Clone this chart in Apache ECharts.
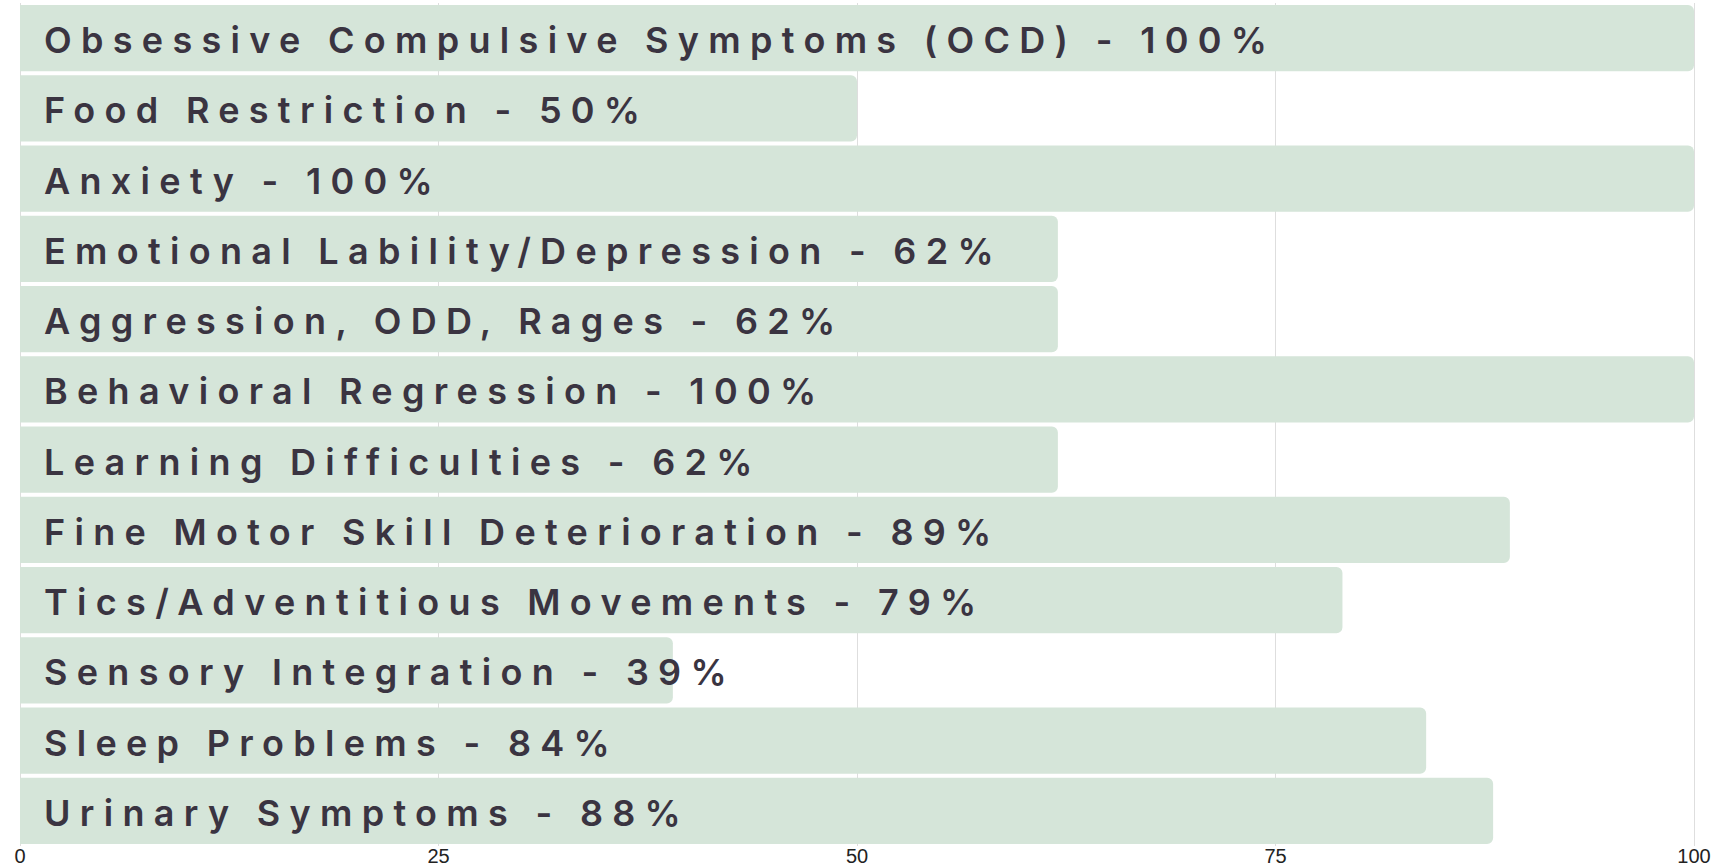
<!DOCTYPE html>
<html>
<head>
<meta charset="utf-8">
<script src="https://cdn.jsdelivr.net/npm/echarts@6/dist/echarts.min.js"></script>
<style>
  html, body { margin: 0; padding: 0; background: #fff; }
  #chart { width: 1725px; height: 866px; }
  /* wide tracking on the bar labels only */
  #chart text[style*="36px"] { letter-spacing: 9.3px; }
</style>
</head>
<body>
<div id="chart"></div>
<script>
const symptoms = [
  "Obsessive Compulsive Symptoms (OCD)",
  "Food Restriction",
  "Anxiety",
  "Emotional Lability/Depression",
  "Aggression, ODD, Rages",
  "Behavioral Regression",
  "Learning Difficulties",
  "Fine Motor Skill Deterioration",
  "Tics/Adventitious Movements",
  "Sensory Integration",
  "Sleep Problems",
  "Urinary Symptoms"
];
const percents = [100, 50, 100, 62, 62, 100, 62, 89, 79, 39, 84, 88];
const xTicks = [0, 25, 50, 75, 100];

const chart = echarts.init(document.getElementById("chart"), null, { renderer: "svg" });

chart.setOption({
  animation: false,
  grid: { left: 20, right: 31, top: 3, bottom: 20, containLabel: false },
  xAxis: {
    type: "value",
    min: xTicks[0],
    max: xTicks[xTicks.length - 1],
    interval: 25,
    axisLine: { show: false },
    axisTick: { show: false },
    axisLabel: { color: "#222", fontSize: 20, fontFamily: "Liberation Sans", margin: 0 },
    splitLine: { lineStyle: { color: "#dedede", width: 1 } }
  },
  yAxis: {
    type: "category",
    inverse: true,
    data: symptoms,
    axisLine: { show: false },
    axisTick: { show: false },
    axisLabel: { show: false }
  },
  series: [{
    type: "bar",
    data: percents,
    barCategoryGap: "6%",
    itemStyle: { color: "#d5e5d9", borderRadius: [0, 6, 6, 0] },
    label: {
      show: true,
      position: "insideLeft",
      distance: 24,
      offset: [0, 2],
      formatter: p => p.name + " - " + p.value + "%",
      color: "#3a3441",
      fontFamily: "Inter",
      fontWeight: 600,
      fontSize: 36
    }
  }]
});
</script>
</body>
</html>
